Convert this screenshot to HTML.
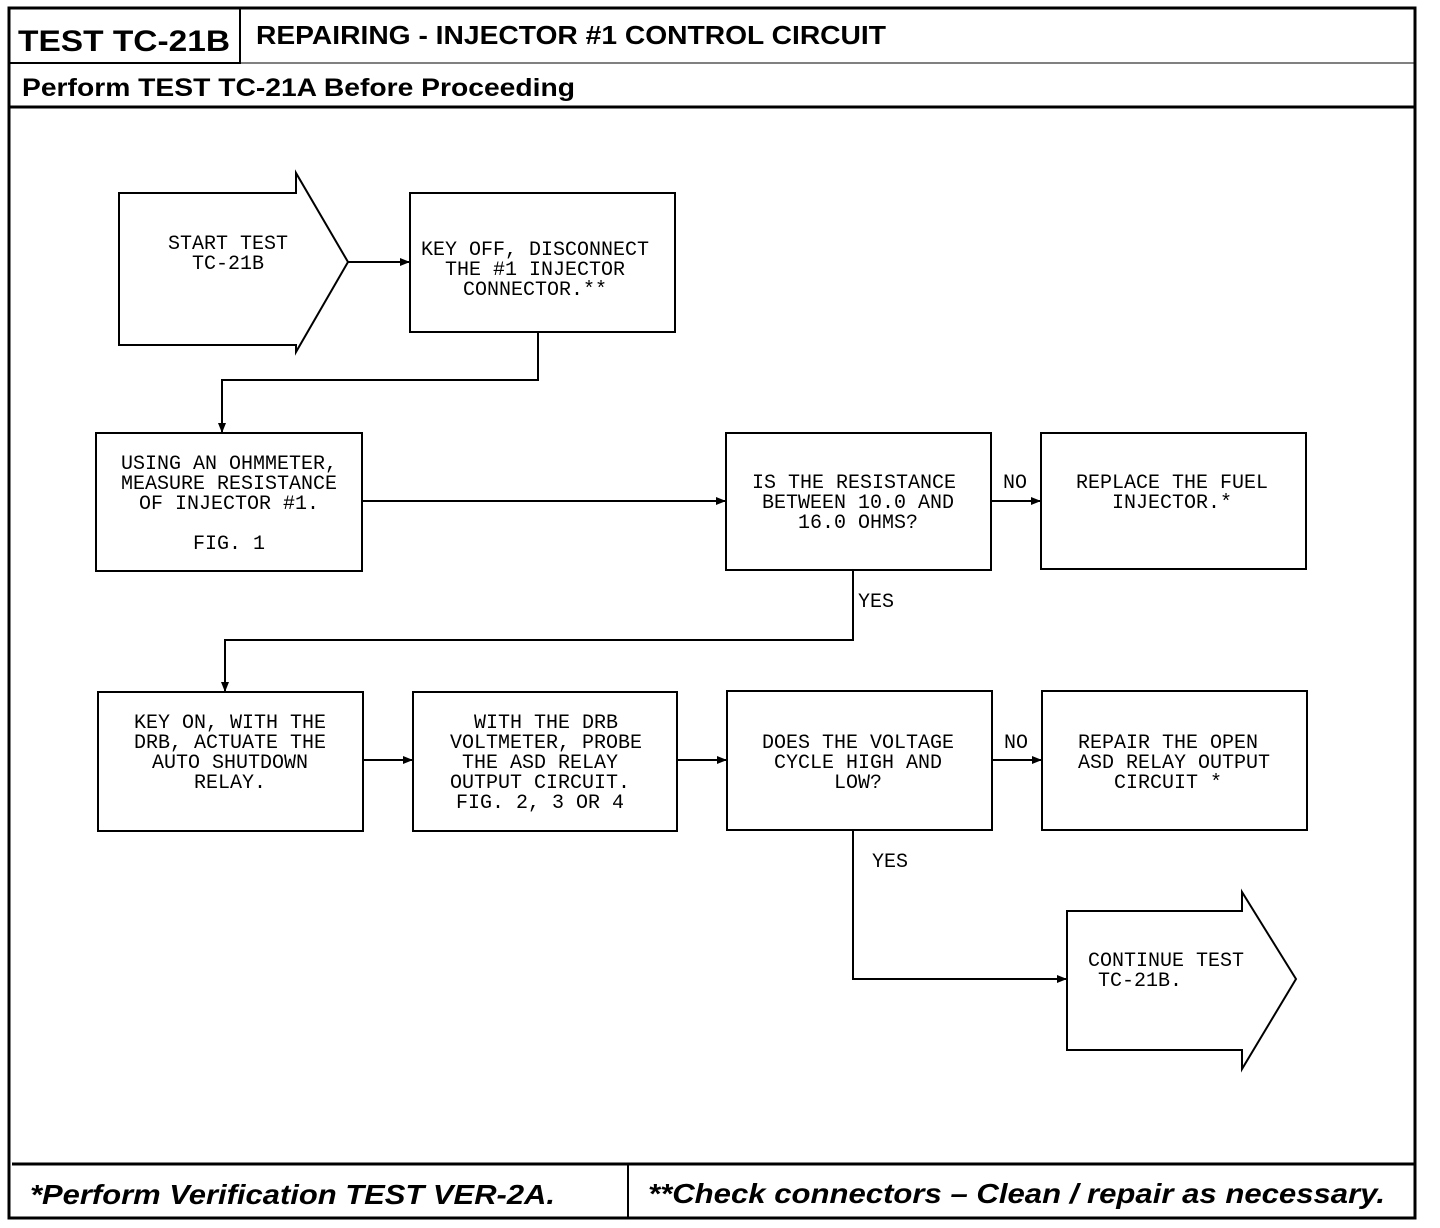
<!DOCTYPE html>
<html><head><meta charset="utf-8"><style>
body{margin:0;background:#fff}
svg{display:block}
.t{font-family:"Liberation Mono",monospace;font-size:20px;fill:#000}
.h{font-family:"Liberation Sans",sans-serif;font-weight:bold;fill:#000}
</style></head><body>
<svg width="1440" height="1228" viewBox="0 0 1440 1228" xmlns="http://www.w3.org/2000/svg">
<defs><marker id="a" markerWidth="10" markerHeight="8" refX="10" refY="4" orient="auto" markerUnits="userSpaceOnUse"><path d="M0,0 L10,4 L0,8z" fill="#000"/></marker></defs>
<g fill="none" stroke="#000">
<rect x="9" y="8" width="1406" height="1210" stroke-width="3"/>
<rect x="9" y="8" width="231" height="55" stroke-width="2"/>
<line x1="9" y1="63" x2="1415" y2="63" stroke-width="1"/>
<line x1="9" y1="107" x2="1415" y2="107" stroke-width="3"/>
<line x1="12" y1="1164" x2="1415" y2="1164" stroke-width="3"/>
<line x1="628" y1="1164" x2="628" y2="1218" stroke-width="2"/>
<g stroke-width="2">
<path d="M119,193 H296 V173 L348,262 L296,352 V345 H119 Z"/>
<rect x="410" y="193" width="265" height="139"/>
<rect x="96" y="433" width="266" height="138"/>
<rect x="726" y="433" width="265" height="137"/>
<rect x="1041" y="433" width="265" height="136"/>
<rect x="98" y="692" width="265" height="139"/>
<rect x="413" y="692" width="264" height="139"/>
<rect x="727" y="691" width="265" height="139"/>
<rect x="1042" y="691" width="265" height="139"/>
<path d="M1067,911 H1242 V892 L1296,979 L1242,1069 V1050 H1067 Z"/>
<path d="M348,262 H410" marker-end="url(#a)"/>
<path d="M538,332 V380 H222 V433" marker-end="url(#a)"/>
<path d="M362,501 H726" marker-end="url(#a)"/>
<path d="M991,501 H1041" marker-end="url(#a)"/>
<path d="M853,570 V640 H225 V692" marker-end="url(#a)"/>
<path d="M363,760 H413" marker-end="url(#a)"/>
<path d="M677,760 H727" marker-end="url(#a)"/>
<path d="M992,760 H1042" marker-end="url(#a)"/>
<path d="M853,830 V979 H1067" marker-end="url(#a)"/>
</g></g>
<text class="h" x="18" y="51" font-size="30" textLength="212" lengthAdjust="spacingAndGlyphs">TEST TC-21B</text>
<text class="h" x="256" y="44" font-size="26" textLength="630" lengthAdjust="spacingAndGlyphs">REPAIRING - INJECTOR #1 CONTROL CIRCUIT</text>
<text class="h" x="22" y="96" font-size="25" textLength="553" lengthAdjust="spacingAndGlyphs">Perform TEST TC-21A Before Proceeding</text>
<text class="h" x="30" y="1204" font-size="28" font-style="italic" textLength="525" lengthAdjust="spacingAndGlyphs">*Perform Verification TEST VER-2A.</text>
<text class="h" x="648" y="1203" font-size="28" font-style="italic" textLength="737" lengthAdjust="spacingAndGlyphs">**Check connectors – Clean / repair as necessary.</text>
<g class="t" text-anchor="middle">
<text x="228" y="249">START TEST</text><text x="228" y="269">TC-21B</text>
<text x="535" y="255">KEY OFF, DISCONNECT</text><text x="535" y="275">THE #1 INJECTOR</text><text x="535" y="295">CONNECTOR.**</text>
<text x="229" y="469">USING AN OHMMETER,</text><text x="229" y="489">MEASURE RESISTANCE</text><text x="229" y="509">OF INJECTOR #1.</text><text x="229" y="549">FIG. 1</text>
<text x="854" y="488">IS THE RESISTANCE</text><text x="858" y="508">BETWEEN 10.0 AND</text><text x="858" y="528">16.0 OHMS?</text>
<text x="1172" y="488">REPLACE THE FUEL</text><text x="1172" y="508">INJECTOR.*</text>
<text x="230" y="728">KEY ON, WITH THE</text><text x="230" y="748">DRB, ACTUATE THE</text><text x="230" y="768">AUTO SHUTDOWN</text><text x="230" y="788">RELAY.</text>
<text x="546" y="728">WITH THE DRB</text><text x="546" y="748">VOLTMETER, PROBE</text><text x="540" y="768">THE ASD RELAY</text><text x="540" y="788">OUTPUT CIRCUIT.</text><text x="540" y="808">FIG. 2, 3 OR 4</text>
<text x="858" y="748">DOES THE VOLTAGE</text><text x="858" y="768">CYCLE HIGH AND</text><text x="858" y="788">LOW?</text>
<text x="1168" y="748">REPAIR THE OPEN</text><text x="1174" y="768">ASD RELAY OUTPUT</text><text x="1168" y="788">CIRCUIT *</text>
<text x="1166" y="966">CONTINUE TEST</text><text x="1140" y="986">TC-21B.</text>
</g>
<g class="t"><text x="1003" y="488">NO</text><text x="858" y="607">YES</text><text x="1004" y="748">NO</text><text x="872" y="867">YES</text></g>
</svg>
</body></html>
